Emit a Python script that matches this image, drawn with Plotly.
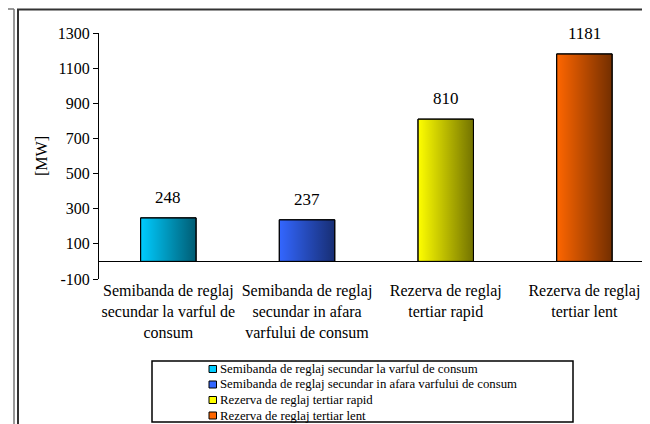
import plotly.graph_objects as go

# ---------------- data ----------------
categories = [
    "Semibanda de reglaj<br>secundar la varful de<br>consum",
    "Semibanda de reglaj<br>secundar in afara<br>varfului de consum",
    "Rezerva de reglaj<br>tertiar rapid",
    "Rezerva de reglaj<br>tertiar lent",
]
legend_names = [
    "Semibanda de reglaj secundar la varful de consum",
    "Semibanda de reglaj secundar in afara varfului de consum",
    "Rezerva de reglaj tertiar rapid",
    "Rezerva de reglaj tertiar lent",
]
values = [248, 237, 810, 1181]
y_ticks = [-100, 100, 300, 500, 700, 900, 1100, 1300]
y_title = "[MW]"

# ---------------- style ----------------
colors = ["#00CCFF", "#3366FF", "#FFFF00", "#FF6600"]
FONT = "Liberation Serif, Times New Roman, serif"
OFF = 8  # page body margin offset
W, H = 650 - OFF, 424 - OFF
ML, MR, MT = 99 - OFF, 0, 33 - OFF
PLOT_BOTTOM = 279 - OFF
MB = H - PLOT_BOTTOM
PW, PH = W - ML - MR, H - MT - MB
BAR_W = 0.4
X_RANGE = [-0.5, 3.473]
Y_RANGE = [-100, 1300]


def px(x):
    return (x - OFF - ML) / PW


def py(y):
    return (PLOT_BOTTOM - (y - OFF)) / PH


xpos = list(range(len(values)))

fig = go.Figure()
fig.add_trace(go.Bar(
    x=xpos, y=values, width=BAR_W,
    marker=dict(color=colors, line=dict(color="black", width=1)),
    showlegend=False, hoverinfo="y",
))

# gradient shading overlay computed from the data
for i, v in zip(xpos, values):
    x0, x1 = i - BAR_W / 2, i + BAR_W / 2
    fig.add_trace(go.Scatter(
        x=[x0, x1, x1, x0, x0], y=[0, 0, v, v, 0],
        mode="lines", fill="toself", line=dict(width=0),
        fillgradient=dict(type="horizontal",
                          colorscale=[[0, "rgba(0,0,0,0)"], [1, "rgba(0,0,0,0.55)"]]),
        showlegend=False, hoverinfo="skip",
    ))
    fig.add_trace(go.Scatter(
        x=[x0, x1, x1, x0, x0], y=[0, 0, v, v, 0],
        mode="lines", line=dict(color="black", width=1),
        showlegend=False, hoverinfo="skip",
    ))

# value labels
for i, v in zip(xpos, values):
    fig.add_annotation(x=i, y=v, text=str(v), showarrow=False, yanchor="bottom",
                       yshift=9, font=dict(family=FONT, size=17, color="black"))

shapes = []
# chart frame and neighbouring frame edges
shapes.append(dict(type="rect", xref="paper", yref="paper",
                   x0=px(18), x1=px(700), y0=py(460), y1=py(9.5),
                   line=dict(color="#333333", width=2)))
shapes.append(dict(type="line", xref="paper", yref="paper",
                   x0=px(14), x1=px(14), y0=py(9), y1=py(460),
                   line=dict(color="#777777", width=1.5)))
shapes.append(dict(type="line", xref="paper", yref="paper",
                   x0=px(-5), x1=px(14), y0=py(9), y1=py(9),
                   line=dict(color="#777777", width=1.5)))
shapes.append(dict(type="path", xref="paper", yref="paper",
                   path=f"M {px(-5)},{py(262)} L {px(6.5)},{py(262)} L {px(6.5)},{py(268)}",
                   line=dict(color="black", width=1)))

# manual legend
LEG_X0, LEG_X1, LEG_Y0, LEG_Y1 = 152, 573, 361, 422
shapes.append(dict(type="rect", xref="paper", yref="paper",
                   x0=px(LEG_X0), x1=px(LEG_X1), y0=py(LEG_Y1), y1=py(LEG_Y0),
                   line=dict(color="black", width=1.5), fillcolor="white", layer="below"))
row_y = [369, 384.5, 400, 415.5]
for name, c, ry in zip(legend_names, colors, row_y):
    shapes.append(dict(type="rect", xref="paper", yref="paper",
                       x0=px(209), x1=px(216.5), y0=py(ry + 3.5), y1=py(ry - 3.5),
                       line=dict(color="black", width=1), fillcolor=c))
    fig.add_annotation(xref="paper", yref="paper", x=px(217.5), y=py(ry),
                       xanchor="left", yanchor="middle", text=name, showarrow=False,
                       font=dict(family=FONT, size=12.8, color="black"))

fig.update_layout(
    width=W, height=H,
    margin=dict(l=ML, r=MR, t=MT, b=MB),
    paper_bgcolor="white", plot_bgcolor="white",
    font=dict(family=FONT, size=16, color="black"),
    showlegend=False,
    shapes=shapes,
    xaxis=dict(range=X_RANGE, tickvals=xpos, ticktext=categories, ticks="",
               showline=False, showgrid=False, zeroline=False,
               tickfont=dict(family=FONT, size=16, color="black")),
    xaxis2=dict(range=X_RANGE, overlaying="x", anchor="free",
                position=(0 - Y_RANGE[0]) / (Y_RANGE[1] - Y_RANGE[0]),
                tickvals=[0.5, 1.5, 2.5], ticktext=["", "", ""],
                ticks="outside", ticklen=5, tickcolor="black", tickwidth=1,
                showline=False, showgrid=False, zeroline=False),
    yaxis=dict(range=Y_RANGE, tickvals=y_ticks, ticktext=[str(t) for t in y_ticks],
               ticks="outside", ticklen=5, tickcolor="black", tickwidth=1,
               showline=True, linecolor="black", linewidth=1,
               showgrid=False, zeroline=True, zerolinecolor="black", zerolinewidth=1,
               tickfont=dict(family=FONT, size=16, color="black"),
               title=dict(text=y_title, standoff=6,
                          font=dict(family=FONT, size=16, color="black"))),
)

fig.write_html("out.html")
